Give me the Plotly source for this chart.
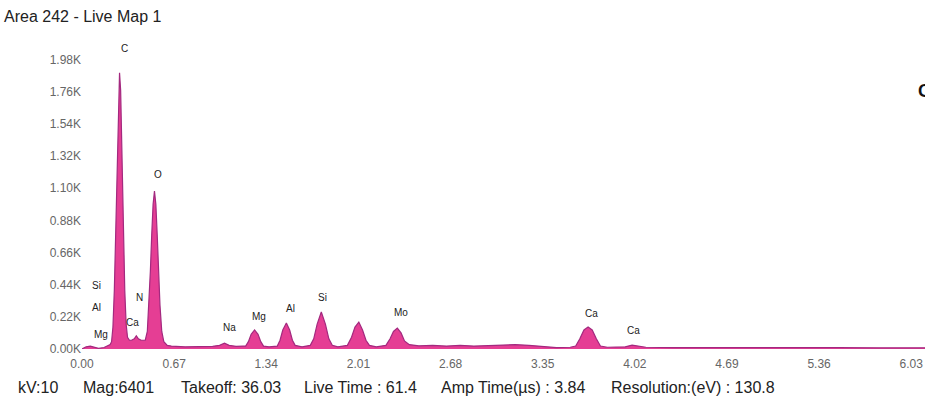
import plotly.graph_objects as go

# EDS spectrum: energy (keV) vs counts (thousands)
energy_kev = [
    0.00, 0.03, 0.06, 0.09, 0.12, 0.16, 0.19,
    0.205, 0.215, 0.225, 0.235, 0.245, 0.255, 0.265, 0.273, 0.281, 0.291, 0.301, 0.311, 0.321, 0.331, 0.345,
    0.36, 0.38, 0.395, 0.41, 0.43, 0.45,
    0.46, 0.475, 0.487, 0.497, 0.507, 0.517, 0.527, 0.537, 0.547, 0.557, 0.567, 0.58, 0.595, 0.62,
    0.65, 0.75, 0.85, 0.95, 1.00, 1.036, 1.07, 1.12, 1.17,
    1.19, 1.21, 1.23, 1.255, 1.28, 1.30, 1.32, 1.36, 1.40,
    1.42, 1.44, 1.46, 1.486, 1.51, 1.53, 1.55, 1.60, 1.64,
    1.66, 1.685, 1.71, 1.74, 1.77, 1.795, 1.82, 1.86, 1.91,
    1.93, 1.96, 1.985, 2.013, 2.04, 2.065, 2.09, 2.14, 2.19,
    2.21, 2.24, 2.265, 2.293, 2.32, 2.345, 2.38, 2.45,
    2.55, 2.65, 2.75, 2.85, 2.95, 3.05, 3.15, 3.25, 3.35, 3.45, 3.55,
    3.59, 3.62, 3.65, 3.68, 3.71, 3.74, 3.77, 3.82, 3.90,
    3.95, 4.00, 4.05, 4.10,
    4.30, 4.60, 4.90, 5.20, 5.36, 5.50, 5.80, 6.13,
]
counts_k = [
    0.0, 0.015, 0.02, 0.01, 0.005, 0.01, 0.025,
    0.03, 0.05, 0.15, 0.40, 0.80, 1.29, 1.77, 1.89, 1.77, 1.29, 0.80, 0.40, 0.17, 0.08, 0.06,
    0.06, 0.07, 0.09, 0.07, 0.06, 0.06,
    0.06, 0.12, 0.30, 0.53, 0.78, 0.99, 1.08, 0.99, 0.78, 0.53, 0.30, 0.12, 0.05, 0.025,
    0.02, 0.015, 0.015, 0.018, 0.025, 0.04, 0.025, 0.018, 0.02,
    0.02, 0.05, 0.10, 0.13, 0.10, 0.05, 0.02, 0.015, 0.02,
    0.02, 0.06, 0.13, 0.178, 0.13, 0.06, 0.025, 0.015, 0.025,
    0.025, 0.07, 0.17, 0.253, 0.17, 0.07, 0.025, 0.015, 0.02,
    0.025, 0.08, 0.15, 0.184, 0.13, 0.06, 0.025, 0.015, 0.025,
    0.025, 0.07, 0.12, 0.143, 0.11, 0.055, 0.03, 0.022,
    0.025, 0.02, 0.025, 0.02, 0.025, 0.028, 0.03, 0.025, 0.015, 0.01, 0.012,
    0.02, 0.07, 0.13, 0.15, 0.13, 0.07, 0.02, 0.012, 0.012,
    0.015, 0.027, 0.02, 0.012,
    0.01, 0.01, 0.009, 0.01, 0.014, 0.009, 0.008, 0.008,
]

# Element labels: text, energy (keV), height (K counts)
label_text = ["C", "O", "Si", "Al", "Mg", "Ca", "N", "Na", "Mg", "Al", "Si", "Mo", "Ca", "Ca"]
label_kev = [0.309, 0.556, 0.105, 0.105, 0.14, 0.367, 0.418, 1.073, 1.284, 1.516, 1.75, 2.32, 3.705, 4.01]
label_k = [2.056, 1.195, 0.437, 0.287, 0.096, 0.184, 0.355, 0.15, 0.219, 0.28, 0.355, 0.253, 0.246, 0.13]

# Axis ticks
x_ticks = [0.00, 0.67, 1.34, 2.01, 2.68, 3.35, 4.02, 4.69, 5.36, 6.03]
y_ticks = [0.00, 0.22, 0.44, 0.66, 0.88, 1.10, 1.32, 1.54, 1.76, 1.98]

# Acquisition parameters shown under the spectrum
info_items = ["kV:10", "Mag:6401", "Takeoff: 36.03", "Live Time : 61.4",
              "Amp Time(µs) : 3.84", "Resolution:(eV) : 130.8"]
info_x_px = [16, 81, 179, 302, 439, 609]

fig = go.Figure()
fig.add_trace(go.Scatter(
    x=energy_kev, y=counts_k, mode="lines",
    line=dict(color="#a3297f", width=1.2),
    fill="tozeroy", fillcolor="rgba(228,52,142,0.95)",
    hoverinfo="skip", showlegend=False,
))

annotations = []
for t, ex, ey in zip(label_text, label_kev, label_k):
    annotations.append(dict(
        x=ex, y=ey, xref="x", yref="y", text=t, showarrow=False,
        font=dict(family="Liberation Sans, Arial", size=10, color="#222"),
    ))

W, H = 925, 400
ml, mr, mt, mb = 82, 0, 42, 51

def px_to_paper_x(px):
    return (px - ml) / (W - ml - mr)

def px_to_paper_y(py):
    return (H - mb - py) / (H - mt - mb)

annotations.append(dict(
    x=px_to_paper_x(2), y=px_to_paper_y(17), xref="paper", yref="paper",
    xanchor="left", yanchor="middle", text="Area 242 - Live Map 1", showarrow=False,
    font=dict(family="Liberation Sans, Arial", size=16, color="#222"),
))
annotations.append(dict(
    x=px_to_paper_x(916), y=px_to_paper_y(91), xref="paper", yref="paper",
    xanchor="left", yanchor="middle", text="<b>C</b>", showarrow=False,
    font=dict(family="Liberation Sans, Arial", size=18, color="#111"),
))
for t, xp in zip(info_items, info_x_px):
    annotations.append(dict(
        x=px_to_paper_x(xp), y=px_to_paper_y(387), xref="paper", yref="paper",
        xanchor="left", yanchor="middle", text=t, showarrow=False,
        font=dict(family="Liberation Sans, Arial", size=16, color="#222"),
    ))

fig.update_layout(
    width=W, height=H,
    margin=dict(l=ml, r=mr, t=mt, b=mb),
    paper_bgcolor="white", plot_bgcolor="white",
    annotations=annotations,
    xaxis=dict(
        range=[0, 6.13], tickvals=x_ticks, ticktext=[f"{v:.2f}" for v in x_ticks],
        showgrid=False, zeroline=False, showline=False, ticks="",
        ticklabelstandoff=6,
        tickfont=dict(family="Liberation Sans, Arial", size=12, color="#666"),
    ),
    yaxis=dict(
        range=[0, 2.1], tickvals=y_ticks, ticktext=[f"{v:.2f}K" for v in y_ticks],
        showgrid=False, zeroline=False, showline=False, ticks="",
        tickfont=dict(family="Liberation Sans, Arial", size=12, color="#666"),
    ),
)

fig.write_html("out.html")
